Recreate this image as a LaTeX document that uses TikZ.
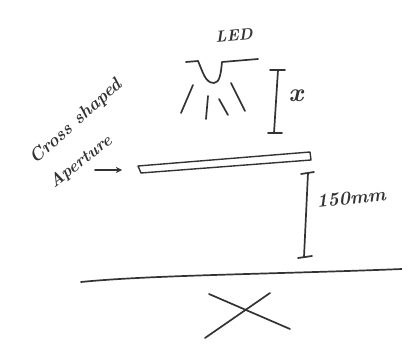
\documentclass[tikz,border=0pt]{standalone}
\usepackage{tikz}
\usetikzlibrary{arrows,positioning,calc}
\usepackage{xcolor}
\colorlet{penink}{black!80}
\tikzset{
  pen/.style={draw=penink,line width=1.7pt,line cap=round,line join=round},
  thinpen/.style={draw=penink,line width=1.4pt,line cap=round,line join=round},
  note/.style={text=penink,font=\bfseries\itshape\fontsize{#1}{#1}\selectfont,inner sep=0pt},
}
\begin{document}
\begin{tikzpicture}[x=1pt,y=-1pt,>=stealth]
  \useasboundingbox (0,0) rectangle (402,345);
  % LED housing and rays
  \node[note=16,rotate=5] (led) at (234,35) {LED};
  \draw[pen] (186,62) -- (198,61) .. controls (203,72) and (205,83) .. (214,83)
    .. controls (220,83) and (221,72) .. (222,62) -- (258,59);
  \coordinate (rayA) at (193,85);  \coordinate (rayAend) at (181,113);
  \coordinate (rayB) at (208,96);  \coordinate (rayBend) at (206,119);
  \coordinate (rayC) at (219,99);  \coordinate (rayCend) at (228,115);
  \coordinate (rayD) at (231,83);  \coordinate (rayDend) at (245,111);
  \foreach \r in {A,B,C,D} \draw[pen] (ray\r) -- (ray\r end);
  % Gap to the aperture
  \coordinate (gapTop) at (278,70);
  \coordinate (gapBot) at (274,133);
  \draw[pen] (gapTop) -- (gapBot);
  \draw[pen] (270,70) -- (285,70);
  \draw[pen] (268,133) -- (282,133);
  \node[note=26] (gap) at (296,96) {x};
  % Aperture plate
  \draw[thinpen] (138,166) -- (310,152) -- (311,160) -- (141,173) -- cycle;
  \node[note=18,rotate=42] (cross) at (76,122) {Cross shaped};
  \node[note=17,rotate=38] (aper) at (81,162) {Aperture};
  \coordinate (arrowTail) at (95,170);
  \coordinate (arrowTip) at (122,170);
  \draw[pen,->] (arrowTail) -- (arrowTip);
  % Gap to the floor
  \coordinate (fixedTop) at (308,173);
  \coordinate (fixedBot) at (304,257);
  \draw[pen] (fixedTop) -- (fixedBot);
  \draw[pen] (301,174) -- (314,172);
  \draw[pen] (298,258) -- (312,256);
  \node[note=19,rotate=6] (fixed) at (351,198) {150mm};
  % Floor and projected cross
  \draw[pen] (81,282) .. controls (150,275) and (280,274) .. (402,269);
  \coordinate (crossA) at (209,294);
  \coordinate (crossB) at (290,329);
  \coordinate (crossC) at (270,293);
  \coordinate (crossD) at (205,338);
  \draw[pen] (crossA) -- (crossB);
  \draw[pen] (crossC) -- (crossD);
\end{tikzpicture}
\end{document}
